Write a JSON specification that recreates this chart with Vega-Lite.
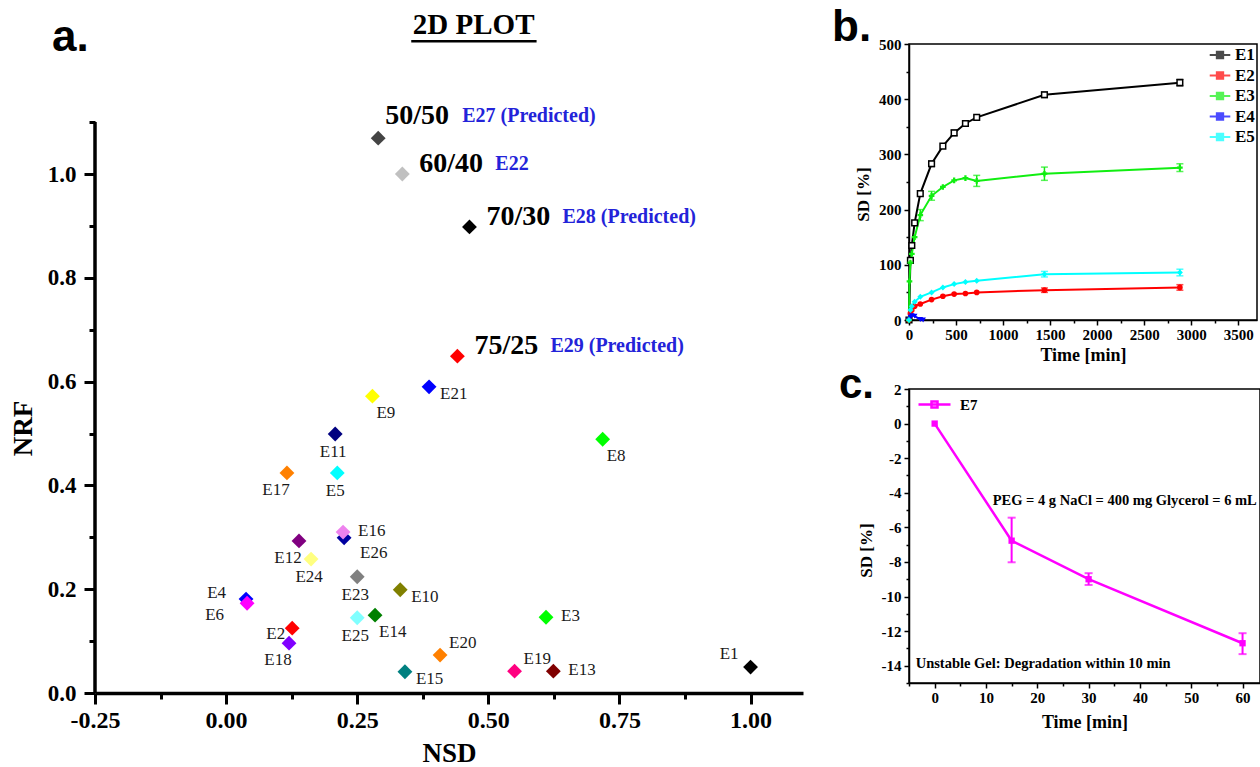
{
"$schema":"https://vega.github.io/schema/vega-lite/v6.json",
"background":"white",
"padding":{"left":9,"top":5,"right":0,"bottom":0},
"config":{
 "axis":{"labelFont":"Liberation Serif","titleFont":"Liberation Serif","labelFontWeight":"bold","titleFontWeight":"bold","labelColor":"#000","titleColor":"#000","domainColor":"#000","tickColor":"#000","grid":false,"labelOverlap":false,"labelFlush":false},
 "legend":{"labelFont":"Liberation Serif","labelFontWeight":"bold","labelColor":"#000"},
 "title":{"color":"#000"}
},
"datasets":{
 "pts":[
  {"id":"E27","NSD":0.290,"NRF":1.069,"ratio":"50/50","note":"E27 (Predicted)"},
  {"id":"E22","NSD":0.336,"NRF":1.0,"ratio":"60/40","note":"E22"},
  {"id":"E28","NSD":0.464,"NRF":0.898,"ratio":"70/30","note":"E28 (Predicted)"},
  {"id":"E29","NSD":0.441,"NRF":0.649,"ratio":"75/25","note":"E29 (Predicted)"},
  {"id":"E21","NSD":0.387,"NRF":0.590},
  {"id":"E9","NSD":0.279,"NRF":0.572},
  {"id":"E11","NSD":0.208,"NRF":0.499},
  {"id":"E8","NSD":0.718,"NRF":0.489},
  {"id":"E17","NSD":0.116,"NRF":0.424},
  {"id":"E5","NSD":0.212,"NRF":0.424},
  {"id":"E26","NSD":0.225,"NRF":0.299},
  {"id":"E16","NSD":0.223,"NRF":0.310},
  {"id":"E12","NSD":0.139,"NRF":0.293},
  {"id":"E24","NSD":0.162,"NRF":0.258},
  {"id":"E23","NSD":0.250,"NRF":0.224},
  {"id":"E10","NSD":0.332,"NRF":0.199},
  {"id":"E4","NSD":0.038,"NRF":0.181},
  {"id":"E6","NSD":0.040,"NRF":0.173},
  {"id":"E14","NSD":0.284,"NRF":0.150},
  {"id":"E25","NSD":0.250,"NRF":0.145},
  {"id":"E3","NSD":0.610,"NRF":0.146},
  {"id":"E2","NSD":0.126,"NRF":0.125},
  {"id":"E18","NSD":0.120,"NRF":0.096},
  {"id":"E20","NSD":0.408,"NRF":0.073},
  {"id":"E15","NSD":0.341,"NRF":0.041},
  {"id":"E19","NSD":0.550,"NRF":0.042},
  {"id":"E13","NSD":0.624,"NRF":0.042},
  {"id":"E1","NSD":1.0,"NRF":0.050}
 ],
 "titleA":[{"NSD":0.472,"NRF":1.27,"txt":"2D PLOT"}],
 "ulA":[{"NSD":0.353,"NSD2":0.592,"NRF":1.256}],
 "axA":[{"NSD":-0.25,"NRF":0,"NRF2":1.1}],
 "swell":[
  {"series":"E1","t":0,"sd":0},{"series":"E1","t":15,"sd":108},{"series":"E1","t":30,"sd":135},{"series":"E1","t":60,"sd":176},{"series":"E1","t":120,"sd":229},{"series":"E1","t":240,"sd":283},{"series":"E1","t":360,"sd":315},{"series":"E1","t":480,"sd":339},{"series":"E1","t":600,"sd":356},{"series":"E1","t":720,"sd":367},{"series":"E1","t":1440,"sd":408},{"series":"E1","t":2880,"sd":430},
  {"series":"E2","t":0,"sd":0},{"series":"E2","t":15,"sd":12},{"series":"E2","t":30,"sd":18},{"series":"E2","t":60,"sd":25},{"series":"E2","t":120,"sd":29},{"series":"E2","t":240,"sd":37},{"series":"E2","t":360,"sd":43},{"series":"E2","t":480,"sd":47},{"series":"E2","t":600,"sd":48},{"series":"E2","t":720,"sd":50},{"series":"E2","t":1440,"sd":54},{"series":"E2","t":2880,"sd":59},
  {"series":"E3","t":0,"sd":0},{"series":"E3","t":5,"sd":70},{"series":"E3","t":15,"sd":104},{"series":"E3","t":30,"sd":120},{"series":"E3","t":60,"sd":150},{"series":"E3","t":120,"sd":190},{"series":"E3","t":240,"sd":225},{"series":"E3","t":360,"sd":241},{"series":"E3","t":480,"sd":253},{"series":"E3","t":600,"sd":257},{"series":"E3","t":720,"sd":252},{"series":"E3","t":1440,"sd":265},{"series":"E3","t":2880,"sd":276},
  {"series":"E4","t":0,"sd":0},{"series":"E4","t":15,"sd":5},{"series":"E4","t":30,"sd":8},{"series":"E4","t":60,"sd":7},{"series":"E4","t":120,"sd":1},{"series":"E4","t":150,"sd":0},
  {"series":"E5","t":0,"sd":0},{"series":"E5","t":15,"sd":18},{"series":"E5","t":30,"sd":25},{"series":"E5","t":60,"sd":33},{"series":"E5","t":120,"sd":42},{"series":"E5","t":240,"sd":50},{"series":"E5","t":360,"sd":59},{"series":"E5","t":480,"sd":65},{"series":"E5","t":600,"sd":69},{"series":"E5","t":720,"sd":71},{"series":"E5","t":1440,"sd":83},{"series":"E5","t":2880,"sd":86}
 ],
 "swellErr":[
  {"series":"E1","t":240,"lo":278,"hi":288},{"series":"E1","t":480,"lo":334,"hi":344},{"series":"E1","t":1440,"lo":403,"hi":413},{"series":"E1","t":2880,"lo":424,"hi":436},
  {"series":"E2","t":1440,"lo":50,"hi":58},{"series":"E2","t":2880,"lo":54,"hi":64},
  {"series":"E3","t":120,"lo":180,"hi":200},{"series":"E3","t":240,"lo":217,"hi":233},{"series":"E3","t":720,"lo":242,"hi":262},{"series":"E3","t":1440,"lo":253,"hi":277},{"series":"E3","t":2880,"lo":269,"hi":283},
  {"series":"E5","t":1440,"lo":78,"hi":88},{"series":"E5","t":2880,"lo":80,"hi":92}
 ],
 "deg":[{"series":"E7","t":0,"sd":0},{"series":"E7","t":15,"sd":-6.77},{"series":"E7","t":30,"sd":-9.0},{"series":"E7","t":60,"sd":-12.7}],
 "degErr":[{"series":"E7","t":15,"lo":-8.02,"hi":-5.44},{"series":"E7","t":30,"lo":-9.33,"hi":-8.65},{"series":"E7","t":60,"lo":-13.33,"hi":-12.12}],
 "degNotes":[{"t":11.3,"sd":-4.5,"txt":"PEG = 4 g NaCl = 400 mg Glycerol = 6 mL"},{"t":-3.7,"sd":-13.9,"txt":"Unstable Gel: Degradation within 10 min"}]
},
"columns":2,
"spacing":28,
"resolve":{"scale":{"color":"independent","shape":"independent","fill":"independent","stroke":"independent"},"legend":{"color":"independent"}},
"concat":[
 {
  "width":708,"height":649,
  "view":{"stroke":null},
  "title":{"text":"a.","anchor":"start","frame":"group","dx":-43,"offset":0,"dy":84,"baseline":"alphabetic","font":"Liberation Sans","fontSize":44,"fontWeight":"bold","color":"#000"},
  "data":{"name":"pts"},
  "encoding":{
   "x":{"field":"NSD","type":"quantitative","scale":{"domain":[-0.25,1.1],"nice":false,"zero":false},
    "axis":{"values":[-0.25,-0.125,0,0.125,0.25,0.375,0.5,0.625,0.75,0.875,1],
     "labelExpr":"abs(datum.value*4-round(datum.value*4))<0.001 ? replace(format(datum.value,'.2f'),'\u2212','-') : ''",
     "tickSize":{"condition":{"test":"abs(datum.value*4-round(datum.value*4))<0.001","value":11},"value":6},
     "tickWidth":3,"domainWidth":3.5,"labelFontSize":24,"labelPadding":4,"title":"NSD","titleFontSize":27,"titlePadding":8}},
   "y":{"field":"NRF","type":"quantitative","scale":{"domain":[0,1.2505],"nice":false,"zero":false},
    "axis":{"values":[0,0.1,0.2,0.3,0.4,0.5,0.6,0.7,0.8,0.9,1,1.1],"domain":false,
     "labelExpr":"abs(datum.value*5-round(datum.value*5))<0.001 ? format(datum.value,'.1f') : ''",
     "tickSize":{"condition":{"test":"abs(datum.value*5-round(datum.value*5))<0.001","value":11},"value":6},
     "tickWidth":3,"labelFontSize":23,"labelPadding":8,"title":"NRF","titleFontSize":27,"titlePadding":10,"titleY":384}}
  },
  "layer":[
   {"data":{"name":"axA"},"mark":{"type":"rule","strokeWidth":3.5,"color":"#000"},"encoding":{"y2":{"field":"NRF2"}}},
   {"mark":{"type":"point","shape":"diamond","filled":true,"size":220,"opacity":1},
    "encoding":{"color":{"field":"id","type":"nominal","legend":null,"scale":{
     "domain":["E27","E22","E28","E29","E21","E9","E11","E8","E17","E5","E26","E16","E12","E24","E23","E10","E4","E6","E14","E25","E3","E2","E18","E20","E15","E19","E13","E1"],
     "range":["#444444","#c0c0c0","#000000","#ff0000","#0000ff","#ffff00","#000080","#00ff00","#ff8000","#00ffff","#0000a0","#ee82ee","#800080","#ffff80","#808080","#808000","#0000ff","#ff00ff","#008000","#80ffff","#00ff00","#ff0000","#8000ff","#ff8000","#008080","#ff0080","#800000","#000000"]}}}},
   {"transform":[{"filter":{"field":"id","oneOf":["E21","E10","E15"]}}],"mark":{"type":"text","align":"left","baseline":"middle","dx":11,"dy":7,"font":"Liberation Serif","fontSize":17,"color":"#1a1a1a"},"encoding":{"text":{"field":"id"}}},
   {"transform":[{"filter":{"field":"id","oneOf":["E16","E3","E13"]}}],"mark":{"type":"text","align":"left","baseline":"middle","dx":15,"dy":-1,"font":"Liberation Serif","fontSize":17,"color":"#1a1a1a"},"encoding":{"text":{"field":"id"}}},
   {"transform":[{"filter":{"field":"id","oneOf":["E14","E9","E8"]}}],"mark":{"type":"text","align":"left","baseline":"middle","dx":4,"dy":17,"font":"Liberation Serif","fontSize":17,"color":"#1a1a1a"},"encoding":{"text":{"field":"id"}}},
   {"transform":[{"filter":{"field":"id","oneOf":["E26"]}}],"mark":{"type":"text","align":"left","baseline":"middle","dx":16,"dy":15,"font":"Liberation Serif","fontSize":17,"color":"#1a1a1a"},"encoding":{"text":{"field":"id"}}},
   {"transform":[{"filter":{"field":"id","oneOf":["E20","E19"]}}],"mark":{"type":"text","align":"left","baseline":"middle","dx":9,"dy":-12,"font":"Liberation Serif","fontSize":17,"color":"#1a1a1a"},"encoding":{"text":{"field":"id"}}},
   {"transform":[{"filter":{"field":"id","oneOf":["E11","E5","E24","E23","E25"]}}],"mark":{"type":"text","align":"center","baseline":"middle","dx":-2,"dy":18,"font":"Liberation Serif","fontSize":17,"color":"#1a1a1a"},"encoding":{"text":{"field":"id"}}},
   {"transform":[{"filter":{"field":"id","oneOf":["E17","E12","E18"]}}],"mark":{"type":"text","align":"center","baseline":"middle","dx":-11,"dy":17,"font":"Liberation Serif","fontSize":17,"color":"#1a1a1a"},"encoding":{"text":{"field":"id"}}},
   {"transform":[{"filter":{"field":"id","oneOf":["E2"]}}],"mark":{"type":"text","align":"right","baseline":"middle","dx":-7,"dy":6,"font":"Liberation Serif","fontSize":17,"color":"#1a1a1a"},"encoding":{"text":{"field":"id"}}},
   {"transform":[{"filter":{"field":"id","oneOf":["E4"]}}],"mark":{"type":"text","align":"right","baseline":"middle","dx":-20,"dy":-6,"font":"Liberation Serif","fontSize":17,"color":"#1a1a1a"},"encoding":{"text":{"field":"id"}}},
   {"transform":[{"filter":{"field":"id","oneOf":["E6"]}}],"mark":{"type":"text","align":"right","baseline":"middle","dx":-23,"dy":12,"font":"Liberation Serif","fontSize":17,"color":"#1a1a1a"},"encoding":{"text":{"field":"id"}}},
   {"transform":[{"filter":{"field":"id","oneOf":["E1"]}}],"mark":{"type":"text","align":"right","baseline":"middle","dx":-12,"dy":-13,"font":"Liberation Serif","fontSize":17,"color":"#1a1a1a"},"encoding":{"text":{"field":"id"}}},
   {"transform":[{"filter":{"field":"id","oneOf":["E27"]}}],"mark":{"type":"text","align":"left","baseline":"middle","dx":7,"dy":-22,"font":"Liberation Serif","fontSize":28,"fontWeight":"bold","color":"#000"},"encoding":{"text":{"field":"ratio"}}},
   {"transform":[{"filter":{"field":"id","oneOf":["E27"]}}],"mark":{"type":"text","align":"left","baseline":"middle","dx":84,"dy":-22,"font":"Liberation Serif","fontSize":20,"fontWeight":"bold","color":"#2323d9"},"encoding":{"text":{"field":"note"}}},
   {"transform":[{"filter":{"field":"id","oneOf":["E22","E28","E29"]}}],"mark":{"type":"text","align":"left","baseline":"middle","dx":17,"dy":-10,"font":"Liberation Serif","fontSize":28,"fontWeight":"bold","color":"#000"},"encoding":{"text":{"field":"ratio"}}},
   {"transform":[{"filter":{"field":"id","oneOf":["E22","E28","E29"]}}],"mark":{"type":"text","align":"left","baseline":"middle","dx":93,"dy":-10,"font":"Liberation Serif","fontSize":20,"fontWeight":"bold","color":"#2323d9"},"encoding":{"text":{"field":"note"}}},
   {"data":{"name":"titleA"},"mark":{"type":"text","align":"center","baseline":"alphabetic","font":"Liberation Serif","fontSize":29,"fontWeight":"bold","color":"#000"},"encoding":{"text":{"field":"txt"}}},
   {"data":{"name":"ulA"},"mark":{"type":"rule","strokeWidth":2.5,"color":"#000"},"encoding":{"x2":{"field":"NSD2"}}}
  ]
 },
 {
  "spacing":-2,
  "resolve":{"scale":{"color":"independent","shape":"independent","fill":"independent","stroke":"independent"},"legend":{"color":"independent"}},
  "vconcat":[
   {
    "width":348,"height":276,
    "view":{"stroke":"#000","strokeWidth":1.5},
    "title":{"text":"b.","anchor":"start","frame":"group","dx":-77,"offset":3,"dy":51,"baseline":"alphabetic","font":"Liberation Sans","fontSize":44,"fontWeight":"bold","color":"#000"},
    "encoding":{
     "x":{"field":"t","type":"quantitative","scale":{"domain":[0,3700],"nice":false,"zero":false},
      "axis":{"values":[0,250,500,750,1000,1250,1500,1750,2000,2250,2500,2750,3000,3250,3500],
       "labelExpr":"abs(datum.value/500-round(datum.value/500))<0.001 ? format(datum.value,'d') : ''",
       "tickSize":{"condition":{"test":"abs(datum.value/500-round(datum.value/500))<0.001","value":5},"value":3},
       "tickWidth":1.5,"domainWidth":1.5,"labelFontSize":15,"labelPadding":2,"title":"Time [min]","titleFontSize":18,"titlePadding":4}},
     "y":{"field":"sd","type":"quantitative","scale":{"domain":[0,500],"nice":false},
      "axis":{"values":[0,50,100,150,200,250,300,350,400,450,500],
       "labelExpr":"abs(datum.value/100-round(datum.value/100))<0.001 ? format(datum.value,'d') : ''",
       "tickSize":{"condition":{"test":"abs(datum.value/100-round(datum.value/100))<0.001","value":5},"value":3},
       "tickWidth":1.5,"domainWidth":1.5,"labelFontSize":15,"labelPadding":3,"title":"SD [%]","titleFontSize":17,"titlePadding":6,"titleY":150}}
    },
    "layer":[
     {"data":{"name":"swellErr"},"mark":{"type":"errorbar","ticks":true,"size":7,"thickness":1.5},
      "encoding":{
       "y":{"field":"lo","type":"quantitative","scale":{"domain":[0,500],"nice":false},"title":"SD [%]"},
       "y2":{"field":"hi"},
       "color":{"field":"series","type":"nominal","scale":{"domain":["E1","E2","E3","E4","E5"],"range":["#000000","#ff0000","#11ee11","#0000ff","#00ffff"]}}}},
     {"data":{"name":"swell"},"mark":{"type":"line","strokeWidth":2},
      "encoding":{
       "color":{"field":"series","type":"nominal","scale":{"domain":["E1","E2","E3","E4","E5"],"range":["#000000","#ff0000","#11ee11","#0000ff","#00ffff"]},
        "legend":{"orient":"top-right","offset":2,"title":null,"padding":0,"symbolType":"M-1.3,0H1.3M-0.4,-0.4H0.4V0.4H-0.4Z","symbolSize":250,"symbolStrokeWidth":2,"labelFontSize":17,"labelOffset":6,"rowPadding":3.5}}}},
     {"data":{"name":"swell"},"transform":[{"filter":"datum.series === 'E1'"}],"mark":{"type":"point","shape":"square","filled":true,"fill":"#ffffff","stroke":"#000000","strokeWidth":1.5,"size":32,"opacity":1}},
     {"data":{"name":"swell"},"transform":[{"filter":"datum.series === 'E2'"}],"mark":{"type":"point","shape":"circle","filled":true,"color":"#ff0000","size":32,"opacity":1}},
     {"data":{"name":"swell"},"transform":[{"filter":"datum.series === 'E3'"}],"mark":{"type":"point","shape":"cross","filled":true,"color":"#11ee11","size":32,"opacity":1}},
     {"data":{"name":"swell"},"transform":[{"filter":"datum.series === 'E4'"}],"mark":{"type":"point","shape":"triangle-down","filled":true,"color":"#0000ff","size":32,"opacity":1}},
     {"data":{"name":"swell"},"transform":[{"filter":"datum.series === 'E5'"}],"mark":{"type":"point","shape":"diamond","filled":true,"color":"#00ffff","size":36,"opacity":1}}
    ]
   },
   {
    "width":351,"height":294,
    "view":{"stroke":"#000","strokeWidth":1.5},
    "title":{"text":"c.","anchor":"start","frame":"group","dx":-70,"offset":0,"dy":58,"baseline":"alphabetic","font":"Liberation Sans","fontSize":42,"fontWeight":"bold","color":"#000"},
    "encoding":{
     "x":{"field":"t","type":"quantitative","scale":{"domain":[-5,63.4],"nice":false,"zero":false},
      "axis":{"values":[-5,0,5,10,15,20,25,30,35,40,45,50,55,60],
       "labelExpr":"abs(datum.value/10-round(datum.value/10))<0.001 ? format(datum.value,'d') : ''",
       "tickSize":{"condition":{"test":"abs(datum.value/10-round(datum.value/10))<0.001","value":5},"value":3},
       "tickWidth":1.5,"domainWidth":1.5,"labelFontSize":15,"labelPadding":2,"title":"Time [min]","titleFontSize":18,"titlePadding":8}},
     "y":{"field":"sd","type":"quantitative","scale":{"domain":[-15,2],"nice":false,"zero":false},
      "axis":{"values":[-15,-14,-13,-12,-11,-10,-9,-8,-7,-6,-5,-4,-3,-2,-1,0,1,2],
       "labelExpr":"abs(datum.value/2-round(datum.value/2))<0.001 ? replace(format(datum.value,'d'),'\u2212','-') : ''",
       "tickSize":{"condition":{"test":"abs(datum.value/2-round(datum.value/2))<0.001","value":5},"value":3},
       "tickWidth":1.5,"domainWidth":1.5,"labelFontSize":15,"labelPadding":3,"title":"SD [%]","titleFontSize":17,"titlePadding":6,"titleY":161}}
    },
    "layer":[
     {"data":{"name":"degErr"},"mark":{"type":"errorbar","ticks":true,"size":8,"thickness":2,"color":"#ff00ff"},
      "encoding":{
       "y":{"field":"lo","type":"quantitative","scale":{"domain":[-15,2],"nice":false,"zero":false},"title":"SD [%]"},
       "y2":{"field":"hi"}}},
     {"data":{"name":"deg"},"mark":{"type":"line","strokeWidth":2.5},
      "encoding":{
       "color":{"field":"series","type":"nominal","scale":{"domain":["E7"],"range":["#ff00ff"]},
        "legend":{"orient":"top-left","offset":4,"title":null,"padding":0,"symbolType":"M-0.6,0H2.6M0.7,-0.3H1.3V0.3H0.7Z","symbolSize":400,"symbolStrokeWidth":2.5,"labelFontSize":15,"labelOffset":24}}}},
     {"data":{"name":"deg"},"mark":{"type":"point","shape":"square","filled":true,"size":40,"color":"#ff00ff","opacity":1}},
     {"data":{"name":"degNotes"},"mark":{"type":"text","align":"left","baseline":"middle","font":"Liberation Serif","fontSize":14.5,"fontWeight":"bold","color":"#000"},
      "encoding":{"text":{"field":"txt"}}}
    ]
   }
  ]
 }
]
}
